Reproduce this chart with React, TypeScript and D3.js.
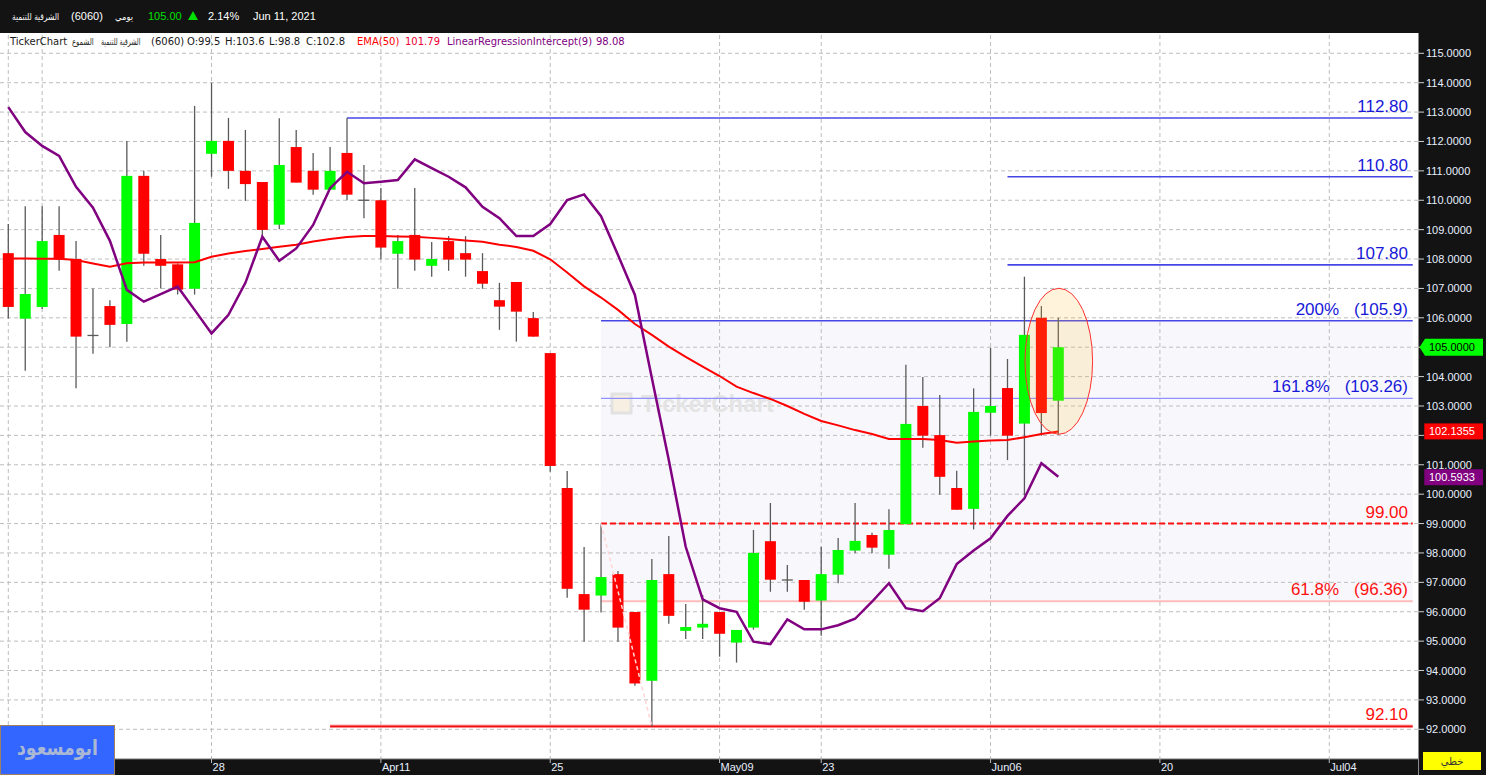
import React from 'react';
import * as d3 from 'd3';

// daily candles, 6060 Eastern Development (Mar 10 .. Jun 10, 2021)
const opens = [108.2, 105.97, 106.37, 108.82, 108.0, 105.4, 106.4, 105.79, 110.83, 108.0, 107.82, 106.99, 111.58, 112.02, 111.0, 110.62, 109.17, 111.81, 111.0, 110.36, 111.61, 110.0, 110.0, 108.18, 108.82, 107.77, 108.61, 108.2, 107.59, 106.6, 107.22, 105.99, 104.8, 100.21, 96.6, 96.55, 97.28, 95.99, 93.65, 97.28, 95.35, 95.46, 95.99, 94.95, 95.46, 98.4, 97.08, 97.08, 96.38, 97.26, 98.08, 98.61, 97.94, 98.98, 103.0, 102.01, 100.21, 99.5, 102.77, 103.61, 102.4, 106.0, 103.18];
const highs = [109.19, 109.8, 109.8, 109.8, 108.61, 107.0, 106.6, 112.02, 111.0, 108.82, 107.85, 113.21, 114.0, 112.8, 112.39, 110.62, 112.79, 112.39, 111.61, 111.81, 112.8, 111.2, 110.42, 108.82, 110.42, 108.58, 108.78, 108.78, 108.2, 107.19, 107.22, 106.2, 104.8, 100.79, 98.2, 99.0, 97.39, 95.99, 97.79, 98.58, 96.26, 96.57, 95.99, 95.38, 98.78, 99.7, 97.59, 97.08, 98.21, 98.51, 99.7, 98.69, 99.49, 104.4, 103.99, 103.37, 100.8, 103.6, 104.98, 104.6, 107.4, 106.4, 106.0];
const lows = [105.98, 104.2, 106.3, 107.6, 103.6, 104.78, 105.0, 105.19, 107.77, 107.0, 106.79, 106.79, 110.8, 110.39, 109.98, 108.78, 109.01, 110.6, 110.19, 110.36, 110.0, 109.39, 107.99, 106.99, 107.6, 107.4, 107.6, 107.4, 106.99, 105.59, 105.19, 105.36, 100.76, 96.48, 94.98, 95.97, 94.98, 93.48, 92.1, 95.59, 95.07, 95.07, 94.47, 94.27, 95.39, 96.68, 96.68, 96.07, 95.18, 96.97, 97.99, 97.99, 97.46, 98.98, 101.58, 99.98, 99.47, 98.8, 101.99, 101.16, 99.96, 101.99, 102.02];
const closes = [106.37, 106.81, 108.61, 107.98, 105.36, 105.4, 105.76, 110.83, 108.18, 107.77, 106.96, 109.23, 112.02, 111.0, 110.55, 108.99, 111.2, 110.6, 110.36, 111.0, 110.19, 110.0, 108.39, 108.61, 107.98, 108.0, 107.98, 107.98, 107.16, 106.38, 106.21, 105.36, 100.96, 96.78, 96.07, 97.18, 95.46, 93.56, 97.08, 95.86, 95.48, 95.59, 95.25, 95.38, 98.0, 97.09, 97.08, 96.34, 97.28, 98.1, 98.41, 98.18, 98.78, 102.39, 101.99, 100.59, 99.47, 102.8, 103.0, 101.99, 105.42, 102.76, 105.0];

const ema50 = [108.02, 108.02, 108.01, 108.01, 107.97, 107.85, 107.74, 107.86, 107.88, 107.88, 107.88, 107.89, 108.08, 108.19, 108.27, 108.34, 108.42, 108.49, 108.6, 108.68, 108.75, 108.78, 108.78, 108.77, 108.76, 108.72, 108.68, 108.63, 108.59, 108.49, 108.41, 108.28, 107.99, 107.54, 107.07, 106.69, 106.27, 105.79, 105.42, 105.02, 104.67, 104.34, 104.02, 103.66, 103.44, 103.24, 103.0, 102.73, 102.49, 102.34, 102.18, 102.05, 101.88, 101.88, 101.88, 101.84, 101.75, 101.79, 101.83, 101.84, 101.94, 102.05, 102.1355];
const linReg9 = [113.17, 112.32, 111.85, 111.51, 110.46, 109.75, 108.62, 106.95, 106.55, 106.81, 107.06, 106.27, 105.47, 106.1, 107.19, 108.76, 107.94, 108.36, 109.16, 110.41, 110.97, 110.58, 110.63, 110.69, 111.39, 111.09, 110.8, 110.44, 109.78, 109.39, 108.78, 108.78, 109.19, 110.01, 110.2, 109.46, 108.14, 106.78, 103.95, 101.16, 98.21, 96.42, 96.12, 96.0, 94.98, 94.9, 95.74, 95.4, 95.4, 95.54, 95.76, 96.34, 96.97, 96.12, 96.02, 96.46, 97.62, 98.08, 98.5, 99.26, 99.86, 101.05, 100.5933];

// date axis: bar index -> label
const xTickIndex = [0, 2, 12, 22, 32, 42, 48, 58, 68, 78];
const xTickLabels = ['Mar', '14', '28', 'Apr11', '25', 'May09', '23', 'Jun06', '20', 'Jul04'];
const priceTicks = d3.range(92, 116);

// drawn levels
const blueLevels = [112.8, 110.8, 107.8];
const blueLevelStart = [20, 59, 59];
const fibLevels = [105.9, 103.26, 96.36];
const fibPct = ['200%', '161.8%', '61.8%'];
const fibFrom = 35;
const fibTo = 38;
const fibHigh = 99.0;
const fibLow = 92.1;
const supportStart = 19;

const W = 1486;
const H = 775;
const plotRight = 1418;
const plotTop = 35;
const plotBottom = 759;
const lineEnd = 1412.7;

const font = '"Liberation Sans", Arial, sans-serif';
const dejavu = '"DejaVu Sans", sans-serif';

export default function App() {
  const x = d3.scaleLinear().domain([0, 62]).range([8.3, 1058.3]);
  const y = d3.scaleLinear().domain([92, 115]).range([729.3, 53.3]);
  const bodyW = 11;

  const emaPath = d3.line<number>().x((_, i) => x(i)).y(d => y(d))(ema50) || '';
  const lrPath = d3.line<number>().x((_, i) => x(i)).y(d => y(d))(linReg9) || '';

  const last = closes.length - 1;
  const tagYs = [y(closes[last]), y(ema50[last]), y(linReg9[last])];
  // axis labels hidden under the value tags
  const axisTicks = priceTicks.filter(p => tagYs.every(t => Math.abs(y(p) - t) > 9));

  return (
    <svg width={W} height={H} style={{ position: 'absolute', left: 0, top: 0, display: 'block' }}>
      <rect x={0} y={0} width={W} height={H} fill="#ffffff" />

      {/* fib shading */}
      <rect x={x(fibFrom)} y={y(fibLevels[0])} width={lineEnd - x(fibFrom)} height={y(fibLevels[2]) - y(fibLevels[0])} fill="#f8f8fc" />

      {/* grid */}
      {priceTicks.map(p => (
        <line key={'h' + p} x1={0} x2={plotRight} y1={y(p)} y2={y(p)} stroke="#bdbdbd" strokeDasharray="4,3" />
      ))}
      {xTickIndex.map(i => (
        <line key={'v' + i} x1={x(i)} x2={x(i)} y1={plotTop} y2={plotBottom} stroke="#bdbdbd" strokeDasharray="4,3" />
      ))}

      {/* watermark */}
      <rect x={612} y={394} width={19} height={19} fill="#f6efe2" stroke="#e2e2e2" strokeWidth={3} />
      <text x={641} y={412} fontFamily={font} fontWeight="bold" fontSize={24} fill="#e4e4e4">TickerChart</text>

      {/* levels */}
      {blueLevels.map((p, k) => (
        <g key={'b' + p}>
          <line x1={x(blueLevelStart[k])} x2={lineEnd} y1={y(p)} y2={y(p)} stroke="#4646e6" strokeWidth={1.6} />
          <text x={1408} y={y(p) - 6} textAnchor="end" fontFamily={font} fontSize={17} fill="#1818d8">{p.toFixed(2)}</text>
        </g>
      ))}
      {fibLevels.map((p, k) => {
        const red = p < fibHigh;
        const stroke = k === 0 ? '#4646e6' : k === 1 ? '#9090ff' : '#ffbcbc';
        return (
          <g key={'f' + p}>
            <line x1={x(fibFrom)} x2={lineEnd} y1={y(p)} y2={y(p)} stroke={stroke} strokeWidth={k === 2 ? 2 : 1.4} />
            <text x={1408} y={y(p) - 6} textAnchor="end" fontFamily={font} fontSize={17} fill={red ? '#ff1010' : '#1818d8'}>
              <tspan>{fibPct[k]}</tspan>
              <tspan dx={15}>({p})</tspan>
            </text>
          </g>
        );
      })}
      <line x1={x(fibFrom)} x2={lineEnd} y1={y(fibHigh)} y2={y(fibHigh)} stroke="#ff1010" strokeWidth={2} strokeDasharray="6,3" />
      <text x={1408} y={y(fibHigh) - 6} textAnchor="end" fontFamily={font} fontSize={17} fill="#ff1010">{fibHigh.toFixed(2)}</text>
      <line x1={x(supportStart)} x2={lineEnd} y1={y(fibLow)} y2={y(fibLow)} stroke="#ffb0b0" strokeWidth={3.5} />
      <line x1={x(supportStart)} x2={lineEnd} y1={y(fibLow)} y2={y(fibLow)} stroke="#ee1111" strokeWidth={1.6} />
      <text x={1408} y={y(fibLow) - 6} textAnchor="end" fontFamily={font} fontSize={17} fill="#ff1010">{fibLow.toFixed(2)}</text>

      {/* candles */}
      {closes.map((c, i) => {
        const o = opens[i];
        const up = c > o;
        const doji = Math.abs(c - o) < 0.02;
        const top = y(Math.max(o, c));
        const bot = y(Math.min(o, c));
        return (
          <g key={'c' + i}>
            <line x1={x(i)} x2={x(i)} y1={y(highs[i])} y2={y(lows[i])} stroke="#5a5a5a" strokeWidth={1.3} />
            {doji ? (
              <line x1={x(i) - bodyW / 2} x2={x(i) + bodyW / 2} y1={top} y2={top} stroke="#5a5a5a" strokeWidth={1.3} />
            ) : (
              <rect x={x(i) - bodyW / 2} y={top} width={bodyW} height={Math.max(1, bot - top)} fill={up ? '#00ff00' : '#ff0000'} />
            )}
          </g>
        );
      })}

      {/* fib anchor line */}
      <line x1={x(fibFrom)} y1={y(fibHigh)} x2={x(fibTo)} y2={y(fibLow)} stroke="#ffd6d6" strokeWidth={1.5} strokeDasharray="4,3" />

      {/* indicators */}
      <path d={emaPath} fill="none" stroke="#ff0000" strokeWidth={2} />
      <path d={lrPath} fill="none" stroke="#800080" strokeWidth={2.5} />

      {/* highlight ellipse */}
      <ellipse cx={1058.8} cy={361.3} rx={33.8} ry={73} fill="#ffbe28" fillOpacity={0.17} stroke="#ff3030" strokeWidth={1} />

      {/* top bar */}
      <rect x={0} y={0} width={W} height={33} fill="#131313" />
      <g fontFamily={font} fontSize={11} fill="#ffffff">
        <text x={12} y={20} fontFamily={dejavu} fontSize={9.5} textLength={47} lengthAdjust="spacingAndGlyphs">الشرقية للتنمية</text>
        <text x={71} y={20}>(6060)</text>
        <text x={115} y={20} fontFamily={dejavu} fontSize={9.5} textLength={18} lengthAdjust="spacingAndGlyphs">يومي</text>
        <text x={148} y={20} fill="#00e000">105.00</text>
        <text x={208} y={20}>2.14%</text>
        <text x={253} y={20}>Jun 11, 2021</text>
      </g>
      <path d="M188,20 L193,11 L198,20 Z" fill="#00e000" />

      {/* legend */}
      <g fontFamily={dejavu} fontSize={10} fill="#1a1a1a">
        <text x={10} y={45}>TickerChart</text>
        <text transform="translate(72,45) scale(0.72,1)" fontSize={9.5}>الشموع</text>
        <text transform="translate(101,45) scale(0.66,1)" fontSize={9.5}>الشرقية للتنمية</text>
        <text x={151} y={45}>(6060)</text>
        <text x={187} y={45}>O:{opens[57]}</text>
        <text x={225} y={45}>H:{highs[57]}</text>
        <text x={269} y={45}>L:{lows[57]}</text>
        <text x={306} y={45}>C:{closes[57]}</text>
        <text x={357} y={45} fill="#ff0000">EMA(50)</text>
        <text x={405} y={45} fill="#ee0033">{ema50[57].toFixed(2)}</text>
        <text x={447} y={45} fill="#800080">LinearRegressionIntercept(9)</text>
        <text x={596} y={45} fill="#800080">{linReg9[57].toFixed(2)}</text>
      </g>

      {/* bottom axis */}
      <rect x={0} y={plotBottom} width={W} height={H - plotBottom} fill="#131313" />
      <line x1={0} x2={plotRight} y1={plotBottom} y2={plotBottom} stroke="#777" />
      {xTickIndex.map((i, k) => (
        <g key={'xt' + i}>
          <line x1={x(i)} x2={x(i)} y1={plotBottom} y2={plotBottom + 4} stroke="#bbb" />
          <text x={x(i) + 1} y={771} fontFamily={font} fontSize={11} fill="#e8f0ff">{xTickLabels[k]}</text>
        </g>
      ))}

      {/* right axis */}
      <rect x={plotRight} y={33} width={W - plotRight} height={H - 33} fill="#131313" />
      <line x1={plotRight + 0.5} x2={plotRight + 0.5} y1={33} y2={H} stroke="#8a8a8a" />
      {priceTicks.map(p => (
        <line key={'ytl' + p} x1={plotRight} x2={plotRight + 6} y1={y(p)} y2={y(p)} stroke="#cfcfcf" />
      ))}
      {axisTicks.map(p => (
        <text key={'yt' + p} x={1426} y={y(p) + 4} fontFamily={font} fontSize={11} fill="#e8f0ff">{p.toFixed(4)}</text>
      ))}
      <path d={`M1419.5,${tagYs[0]} L1425,${tagYs[0] - 8.5} L1483,${tagYs[0] - 8.5} L1483,${tagYs[0] + 8.5} L1425,${tagYs[0] + 8.5} Z`} fill="#00ff00" />
      <text x={1429} y={tagYs[0] + 4} fontFamily={font} fontSize={11} fill="#000">{closes[last].toFixed(4)}</text>
      <rect x={1424.3} y={tagYs[1] - 8} width={58.7} height={16} fill="#ff0000" />
      <text x={1429} y={tagYs[1] + 4} fontFamily={font} fontSize={11} fill="#ffffff">{ema50[last].toFixed(4)}</text>
      <rect x={1424.3} y={tagYs[2] - 7.5} width={58.7} height={16} fill="#800080" />
      <text x={1429} y={tagYs[2] + 4.5} fontFamily={font} fontSize={11} fill="#ffffff">{linReg9[last].toFixed(4)}</text>
      <rect x={1423} y={752} width={58} height={18} fill="#ffff00" />
      <text x={1452} y={765} textAnchor="middle" fontFamily={dejavu} fontSize={10} fill="#333">خطي</text>

      {/* logo */}
      <rect x={0.5} y={725.5} width={114} height={49} fill="#3366ff" stroke="#a08060" />
      <text x={17} y={755} fontFamily={dejavu} fontWeight="bold" fontSize={21} fill="#aab8d4" textLength={81} lengthAdjust="spacingAndGlyphs">ابومسعود</text>
    </svg>
  );
}
